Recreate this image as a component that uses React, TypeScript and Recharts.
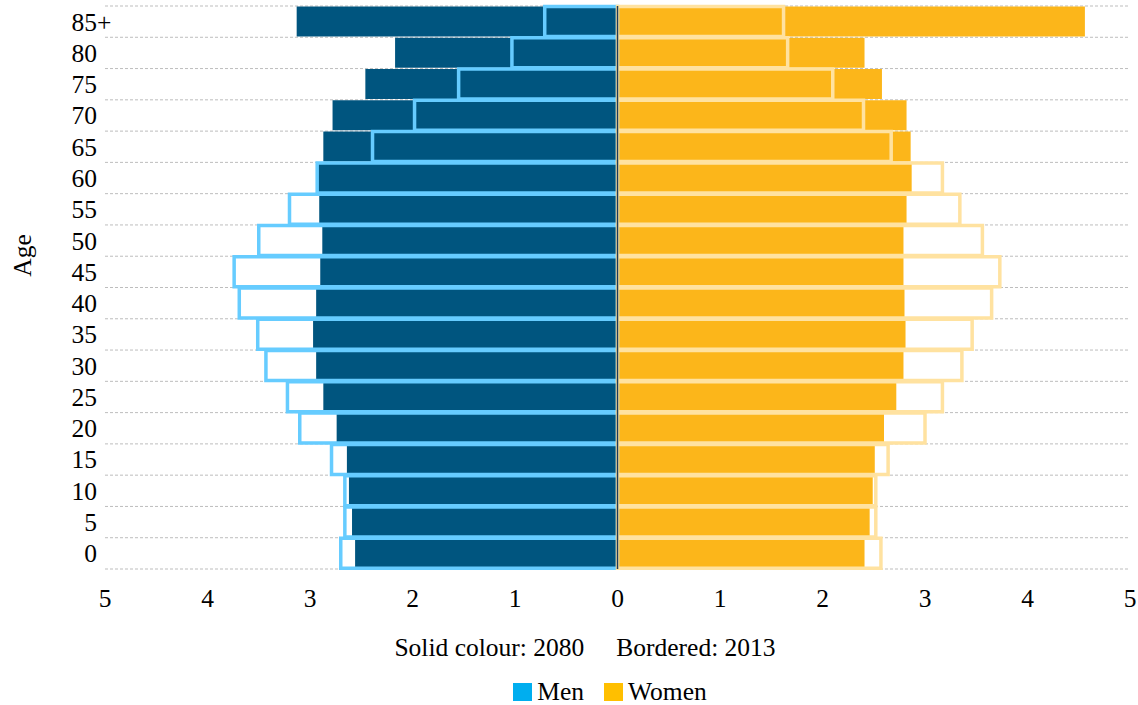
import React from 'react';
import { BarChart, Bar, XAxis, YAxis, CartesianGrid, ReferenceLine, Legend } from 'recharts';

const FONT = '"Liberation Serif", "Times New Roman", serif';
const FS = 25.5;

// Age groups from youngest (bottom) to oldest (top)
const ageGroups = ['0', '5', '10', '15', '20', '25', '30', '35', '40', '45', '50', '55', '60', '65', '70', '75', '80', '85+'];

// Percent of population, 2080 (solid colour)
const men2080 = [2.56, 2.59, 2.62, 2.64, 2.74, 2.87, 2.94, 2.97, 2.94, 2.9, 2.88, 2.91, 2.93, 2.87, 2.78, 2.46, 2.17, 3.13];
const women2080 = [2.41, 2.46, 2.49, 2.51, 2.6, 2.72, 2.79, 2.81, 2.8, 2.79, 2.79, 2.82, 2.87, 2.86, 2.82, 2.58, 2.41, 4.56];

// Percent of population, 2013 (bordered)
const men2013 = [2.7, 2.66, 2.66, 2.79, 3.1, 3.22, 3.43, 3.51, 3.69, 3.74, 3.5, 3.2, 2.93, 2.39, 1.98, 1.55, 1.03, 0.71];
const women2013 = [2.57, 2.52, 2.52, 2.64, 3.0, 3.17, 3.36, 3.46, 3.65, 3.73, 3.56, 3.34, 3.17, 2.67, 2.4, 2.1, 1.66, 1.62];

const xTicks = [-5, -4, -3, -2, -1, 0, 1, 2, 3, 4, 5];

const legendItems = [
  { label: 'Men', color: '#00aeef' },
  { label: 'Women', color: '#ffbf00' },
];
const noteParts = ['Solid colour: 2080', 'Bordered: 2013'];

const data = ageGroups.map((age, i) => ({
  age,
  men2080: -men2080[i],
  women2080: women2080[i],
  men2013: -men2013[i],
  women2013: women2013[i],
}));

// Horizontal grid lines at the boundaries between age bands
const bandBoundaries = (args: any) => {
  const offset = args && args.offset;
  if (!offset) return [];
  const n = ageGroups.length;
  return Array.from({ length: n + 1 }, (_, i) => offset.top + (offset.height * i) / n);
};

const AgeTick = (props: any) => {
  const { x, y, payload } = props;
  const val = String(payload.value);
  const m = /^(\d+)(.*)$/.exec(val);
  const num = m ? m[1] : val;
  const suffix = m ? m[2] : '';
  return (
    <g>
      <text x={x} y={y} dy="0.35em" textAnchor="end" fill="#000" fontSize={FS} fontFamily={FONT}>
        {num}
      </text>
      {suffix ? (
        <text x={x} y={y} dy="0.35em" textAnchor="start" fill="#000" fontSize={FS} fontFamily={FONT}>
          {suffix}
        </text>
      ) : null}
    </g>
  );
};

const AgeLabel = (props: any) => {
  const { viewBox } = props;
  const cx = viewBox.x + 22;
  const cy = viewBox.y + viewBox.height / 2 - 32;
  return (
    <text
      x={cx}
      y={cy}
      transform={`rotate(-90, ${cx}, ${cy})`}
      textAnchor="middle"
      dominantBaseline="central"
      fill="#000"
      fontSize={FS}
      fontFamily={FONT}
    >
      Age
    </text>
  );
};

const LegendContent = () => (
  <div style={{ height: 90, fontFamily: FONT, fontSize: FS, color: '#000', position: 'relative' }}>
    <div
      style={{
        position: 'absolute',
        top: 20,
        left: 0,
        right: 0,
        display: 'flex',
        justifyContent: 'center',
        gap: 32,
        paddingLeft: 40,
        lineHeight: '26px',
        whiteSpace: 'nowrap',
      }}
    >
      {noteParts.map((p) => (
        <span key={p}>{p}</span>
      ))}
    </div>
    <div
      style={{
        position: 'absolute',
        top: 64,
        left: 0,
        right: 0,
        display: 'flex',
        justifyContent: 'center',
        alignItems: 'center',
        gap: 20,
        paddingLeft: 90,
        lineHeight: '26px',
        whiteSpace: 'nowrap',
      }}
    >
      {legendItems.map((it) => (
        <span key={it.label} style={{ display: 'inline-flex', alignItems: 'center' }}>
          <span style={{ display: 'inline-block', width: 19, height: 18, background: it.color, marginRight: 5 }} />
          <span>{it.label}</span>
        </span>
      ))}
    </div>
  </div>
);

export default function App() {
  return (
    <div style={{ position: 'absolute', left: 0, top: 0, width: 1138, height: 705, background: '#fff' }}>
      <BarChart
        width={1138}
        height={705}
        data={data}
        layout="vertical"
        margin={{ top: 6, right: 8, left: 0, bottom: 0 }}
        barCategoryGap={0.5}
        stackOffset="sign"
      >
        <CartesianGrid
          vertical={false}
          horizontal
          horizontalCoordinatesGenerator={bandBoundaries}
          stroke="#bdbdbd"
          strokeDasharray="3 2"
        />
        <XAxis
          type="number"
          domain={[-5, 5]}
          ticks={xTicks}
          interval={0}
          tickFormatter={(v: number) => String(Math.abs(v))}
          axisLine={false}
          tickLine={false}
          tickSize={0}
          tickMargin={20}
          height={46}
          tick={{ fill: '#000', fontSize: FS, fontFamily: FONT }}
        />
        <YAxis
          yAxisId="a"
          type="category"
          dataKey="age"
          reversed
          width={105}
          axisLine={false}
          tickLine={false}
          tickSize={0}
          tickMargin={8}
          interval={0}
          tick={<AgeTick />}
          label={{ content: <AgeLabel /> }}
        />
        <YAxis yAxisId="b" type="category" dataKey="age" reversed hide />
        <Bar yAxisId="a" dataKey="men2080" stackId="s2080" fill="#00557f" isAnimationActive={false} />
        <Bar yAxisId="a" dataKey="women2080" stackId="s2080" fill="#fcb61a" isAnimationActive={false} />
        <Bar
          yAxisId="b"
          dataKey="men2013"
          stackId="s2013"
          fill="none"
          stroke="#66ccff"
          strokeWidth={3.5}
          isAnimationActive={false}
        />
        <Bar
          yAxisId="b"
          dataKey="women2013"
          stackId="s2013"
          fill="none"
          stroke="#ffe2a0"
          strokeWidth={3.5}
          isAnimationActive={false}
        />
        <ReferenceLine yAxisId="a" x={0} stroke="#1d3c5a" strokeWidth={1.5} />
        <Legend verticalAlign="bottom" height={90} content={<LegendContent />} />
      </BarChart>
    </div>
  );
}
